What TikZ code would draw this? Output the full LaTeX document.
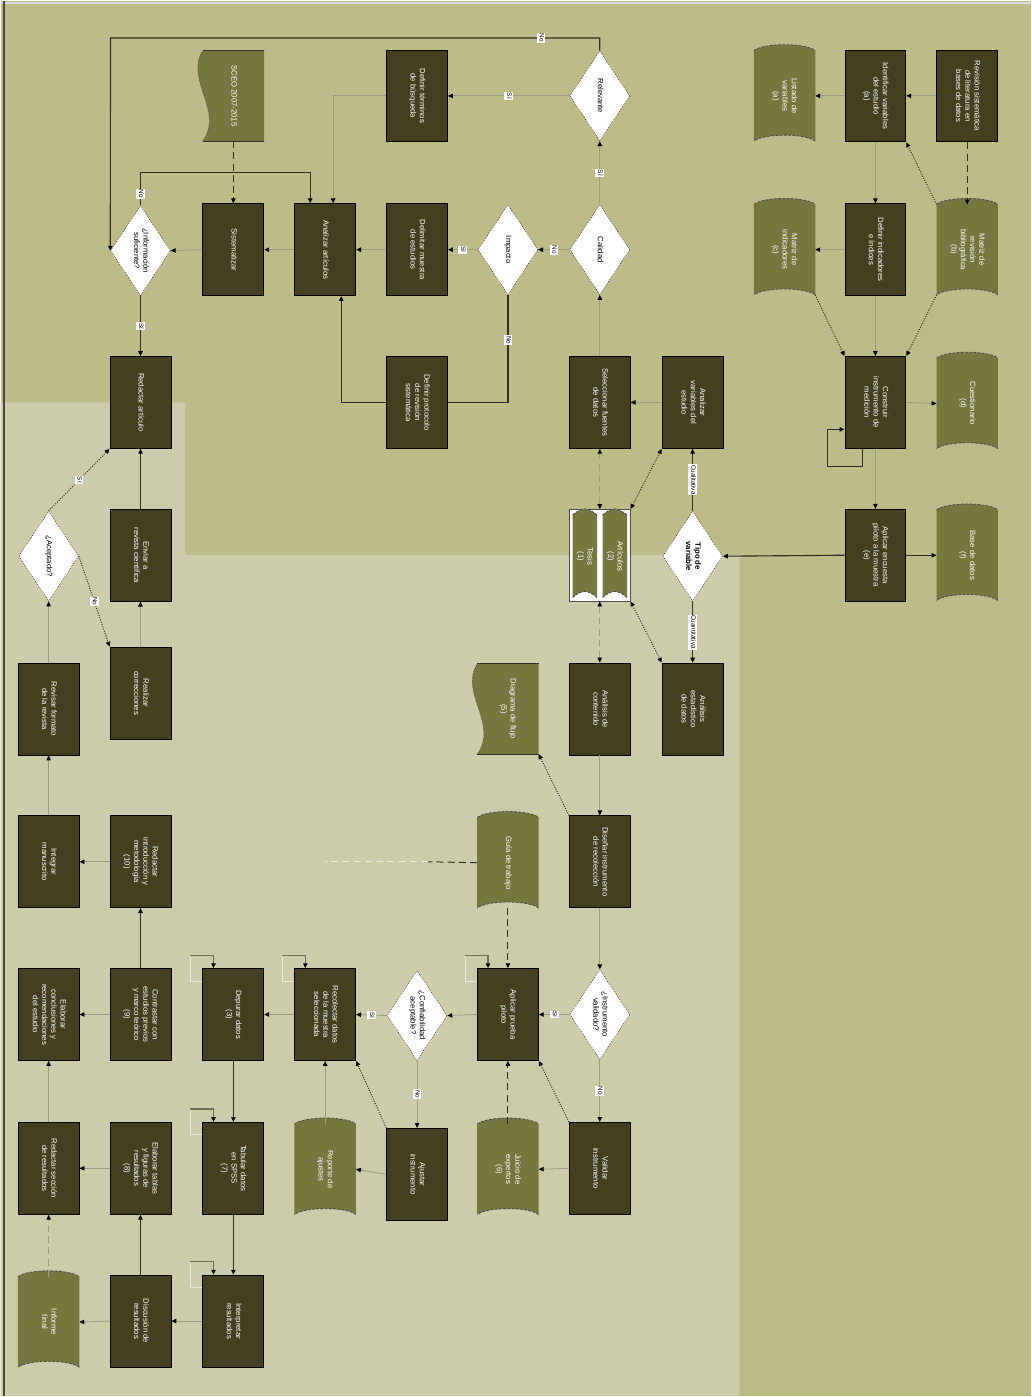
\documentclass[tikz,border=0pt]{standalone}
\usepackage{fontspec}
\setmainfont{Liberation Sans}
\usetikzlibrary{shapes.geometric,arrows.meta,calc}
\definecolor{bgdark}{HTML}{BDBB88}
\definecolor{bglight}{HTML}{CCCCAA}
\definecolor{boxc}{HTML}{433F1F}
\definecolor{docc}{HTML}{76763F}
\definecolor{lnlight}{HTML}{9C9C80}
\definecolor{lndark}{HTML}{2E2E22}
\pgfdeclarelayer{back}
\pgfdeclarelayer{docs}
\pgfsetlayers{back,docs,main}
\newcommand{\rt}[1]{\rotatebox{-90}{\begin{tabular}{@{}c@{}}#1\end{tabular}}}
\tikzset{
  box/.style={draw=black,line width=0.6pt,fill=boxc,text=white,minimum width=1.525cm,minimum height=2.3cm,inner sep=0pt},
  dec/.style={diamond,aspect=0.66,draw=black,densely dotted,fill=white,minimum width=1.5cm,minimum height=2.25cm,inner sep=0pt},
  tapedoc/.style={minimum width=1.525cm,minimum height=2.25cm,inner sep=0pt,text=white},
  flow/.style={->,lnlight,line width=0.6pt},
  dflow/.style={->,lndark,line width=0.8pt},
  dashflow/.style={->,lndark,dash pattern=on 5pt off 3pt,line width=0.7pt},
  dotflow/.style={->,lndark,densely dotted,line width=0.7pt},
  lbl/.style={fill=white,text=black,inner sep=0.6pt,font=\fontsize{4.5}{5}\selectfont},
  edgeline/.style={black!70,dash pattern=on 2pt off 1pt,line width=0.6pt},
}
\begin{document}
\begin{tikzpicture}[x=0.025cm,y=-0.025cm,>={Triangle[length=3.5pt,width=3.2pt,color=black]},every node/.style={font=\fontsize{5.5}{6.6}\selectfont}]
\begin{pgfonlayer}{back}
\fill[bgdark] (0,0) rectangle (1032,1397);
\fill[bglight] (0,402) -- (185,402) -- (185,555) -- (740,555) -- (740,1397) -- (0,1397) -- cycle;
\draw[black!15,line width=1pt] (0,2) -- (1032,2);
\draw[lndark!80!bgdark,line width=1.5pt] (3,0) -- (3,1397);
\end{pgfonlayer}
% literature review
\node[tapedoc] (sceo) at (233,95) {\rt{SCEO 2007-2015}};
\node[box] (terms) at (417,95) {\rt{Definir términos\\de búsqueda}};
\node[dec] (relev) at (600,95) {\rt{Relevante}};
\node[dec] (sat) at (140,250) {\rt{¿Información\\suficiente?}};
\node[box] (syst) at (233,249) {\rt{Sistematizar}};
\node[box] (anal) at (325,249) {\rt{Analizar artículos}};
\node[box] (delim) at (417,249) {\rt{Delimitar muestra\\de estudios}};
\node[dec] (imp) at (508,249) {\rt{Impacto}};
\node[dec] (cal) at (600,249) {\rt{Calidad}};
\node[box] (redac) at (140,402) {\rt{Redactar artículo}};
\node[box] (proto) at (417,402) {\rt{Definir protocolo\\de revisión\\sistemática}};
\node[box] (sel) at (600,402) {\rt{Seleccionar fuentes\\de datos}};
\node[box] (var) at (693,402) {\rt{Analizar\\variables del\\estudio}};
% sources and variables
\node[minimum width=1.525cm,minimum height=2.3cm,inner sep=0pt] (refs) at (600,555) {};
\node[tapedoc,minimum width=0.6cm,minimum height=2.05cm] (tesis) at (585,556) {\rt{Tesis\\(1)}};
\node[tapedoc,minimum width=0.6cm,minimum height=2.05cm] (art) at (615,556) {\rt{Artículos\\(2)}};
\node[dec,font=\fontsize{5.5}{6.6}\selectfont\bfseries] (tipo) at (693,556) {\rt{Tipo de\\variable}};
\node[box] (cual) at (600,709) {\rt{Análisis de\\contenido}};
\node[box] (quan) at (693,709) {\rt{Análisis\\estadístico\\de datos}};
\node[tapedoc] (diag) at (508,709) {\rt{Diagrama de flujo\\(5)}};
\node[box] (inst) at (600,862) {\rt{Diseñar instrumento\\de recolección}};
\node[tapedoc] (guia) at (508,863) {\rt{Guía de trabajo}};
% fieldwork
\node[dec] (test) at (600,1015) {\rt{¿Instrumento\\validado?}};
\node[box] (apply) at (508,1015) {\rt{Aplicar prueba\\piloto}};
\node[dec] (conf) at (417,1016) {\rt{¿Confiabilidad\\aceptable?}};
\node[box] (coll) at (325,1015) {\rt{Recolectar datos\\de la muestra\\seleccionada}};
\node[box] (proc) at (233,1015) {\rt{Depurar datos\\(3)}};
\node[box] (valid) at (600,1169) {\rt{Validar\\instrumento}};
\node[tapedoc] (exp) at (508,1170) {\rt{Juicio de\\expertos\\(6)}};
\node[box] (adj) at (417,1175) {\rt{Ajustar\\instrumento}};
\node[tapedoc] (rep) at (325,1170) {\rt{Reporte de\\ajustes}};
\node[box] (tab) at (233,1169) {\rt{Tabular datos\\en SPSS\\(7)}};
\node[box] (inter) at (233,1322) {\rt{Interpretar\\resultados}};
% writing
\node[box] (disc) at (140,1322) {\rt{Discusión de\\resultados}};
\node[tapedoc] (concl) at (48,1323) {\rt{Informe\\final}};
\node[box] (result) at (140,1169) {\rt{Elaborar tablas\\y figuras de\\resultados\\(8)}};
\node[box] (rsec) at (48,1169) {\rt{Redactar sección\\de resultados}};
\node[box] (contr) at (140,1015) {\rt{Contrastar con\\estudios previos\\y marco teórico\\(9)}};
\node[box] (recom) at (48,1015) {\rt{Elaborar\\conclusiones y\\recomendaciones\\del estudio}};
\node[box] (intro) at (140,862) {\rt{Redactar\\introducción y\\metodología\\(10)}};
\node[box] (manus) at (48,862) {\rt{Integrar\\manuscrito}};
\node[box] (forma) at (48,709) {\rt{Revisar formato\\de la revista}};
\node[dec] (acc) at (48,556) {\rt{¿Aceptado?}};
\node[box] (corr) at (140,693) {\rt{Realizar\\correcciones}};
\node[box] (envio) at (140,555) {\rt{Enviar a\\revista científica}};
% variables
\node[box] (rsl) at (968,95) {\rt{Revisión sistemática\\de literatura en\\bases de datos}};
\node[box] (ident) at (876,95) {\rt{Identificar variables\\del estudio\\(a)}};
\node[tapedoc] (lvar) at (785,95) {\rt{Listado de\\variables\\(a)}};
\node[tapedoc] (mrev) at (968,249) {\rt{Matriz de\\revisión\\bibliográfica\\(b)}};
\node[box] (indic) at (876,249) {\rt{Definir indicadores\\e índices}};
\node[tapedoc] (mind) at (785,249) {\rt{Matriz de\\indicadores\\(c)}};
\node[box] (constr) at (876,402) {\rt{Construir\\instrumento de\\medición}};
\node[tapedoc] (cuest) at (968,403) {\rt{Cuestionario\\(d)}};
\node[box] (pilot) at (876,555) {\rt{Aplicar encuesta\\piloto a la muestra\\(e)}};
\node[tapedoc] (bdat) at (968,555) {\rt{Base de datos\\(f)}};
% document shapes
\begin{pgfonlayer}{docs}
\draw[fill=white,draw=black!70,line width=0.6pt] (refs.north west) rectangle (refs.south east);
\foreach \n in {guia,exp,rep,concl,lvar,mrev,mind,cuest,bdat,tesis,art} {
  \fill[docc] (\n.north west) .. controls ($(\n.north west)+(10,-8)$) and ($(\n.north east)+(-10,-8)$) .. (\n.north east) -- (\n.south east) .. controls ($(\n.south east)+(-10,-8)$) and ($(\n.south west)+(10,-8)$) .. (\n.south west) -- cycle;
  \draw[edgeline] (\n.north west) .. controls ($(\n.north west)+(10,-8)$) and ($(\n.north east)+(-10,-8)$) .. (\n.north east);
  \draw[edgeline] (\n.south east) .. controls ($(\n.south east)+(-10,-8)$) and ($(\n.south west)+(10,-8)$) .. (\n.south west);
}
\foreach \n in {sceo,diag} {
  \fill[docc] (\n.north west) -- (\n.north east) -- (\n.south east) -- (\n.south west) .. controls ($(\n.south west)+(22,-30)$) and ($(\n.north west)+(-18,30)$) .. (\n.north west) -- cycle;
  \draw[lndark,line width=0.8pt] (\n.north west) -- (\n.north east);
  \draw[lndark,line width=0.8pt] (\n.south west) -- (\n.south east);
  \draw[black!70,densely dotted,line width=0.6pt] (\n.south west) .. controls ($(\n.south west)+(22,-30)$) and ($(\n.north west)+(-18,30)$) .. (\n.north west);
}
\end{pgfonlayer}
% review connectors
\coordinate (jt) at (233,172);
\coordinate (ctop) at (110,37);
\draw[dflow] (sat.north) -- node[lbl,pos=.35]{\rt{No}} (sat.north |- jt) -| ($(anal.north)+(-15,0)$);
\draw[dashflow] (sceo.south) -- (syst.north);
\draw[flow] (terms.west) -| ($(anal.north)+(8,0)$);
\draw[dflow] (relev.north) -- (relev.north |- ctop) -- node[lbl,pos=.12]{\rt{No}} (ctop) -- (sat.west);
\draw[flow] (relev.west) -- node[lbl]{\rt{Sí}} (terms.east);
\draw[flow] (cal.north) -- node[lbl]{\rt{Sí}} (relev.south);
\draw[flow] (cal.west) -- node[lbl]{\rt{No}} (imp.east);
\draw[flow] (imp.west) -- node[lbl]{\rt{Sí}} (delim.east);
\draw[dflow,-] (imp.south) |- node[lbl,pos=.21]{\rt{No}} (proto.east);
\draw[dflow] (proto.west) -| ($(anal.south)+(16,0)$);
\draw[flow] (delim.west) -- (anal.east);
\draw[flow] (anal.west) -- (syst.east);
\draw[flow] (syst.west) -- (sat.east);
\draw[dflow] (sat.south) -- node[lbl]{\rt{Sí}} (redac.north);
\draw[flow] (sel.north) -- (cal.south);
\draw[flow] (var.west) -- (sel.east);
% sources connectors
\draw[dashflow,<->,lnlight] (refs.north) -- (sel.south);
\draw[dotflow,<->] (refs.north east) -- (var.south west);
\draw[dflow] (tipo.north) -- node[lbl]{\rt{Cualitativa}} (var.south);
\draw[dflow] (tipo.south) -- node[lbl]{\rt{Cuantitativa}} (quan.north);
\draw[dflow] (pilot.west) -- (tipo.east);
\draw[dashflow,<->,lnlight] (refs.south) -- (cual.north);
\draw[dotflow,<->] (refs.south east) -- (quan.north west);
\draw[flow] (cual.south) -- (inst.north);
\draw[dotflow] (inst.north west) -- (diag.south east);
\draw[flow] (inst.south) -- (test.north);
\coordinate (cg1) at (428,862);
\coordinate (cg) at (325,862);
\draw[dashflow,-] (guia.west) -- (cg1);
\draw[dashflow,-,white!60!bglight] (cg1) -- (cg);
\draw[dashflow] (guia.south) -- (apply.north);
% fieldwork connectors
\draw[flow] (test.west) -- node[lbl]{\rt{Sí}} (apply.east);
\draw[flow] (test.south) -- node[lbl]{\rt{No}} (valid.north);
\draw[flow] (valid.west) -- (exp.east);
\draw[dotflow] (valid.north west) -- (apply.south east);
\draw[dashflow] (exp.north) -- (apply.south);
\draw[flow] (apply.west) -- (conf.east);
\draw[flow] (conf.west) -- node[lbl]{\rt{Sí}} (coll.east);
\draw[flow] (conf.south) -- node[lbl]{\rt{No}} (adj.north);
\draw[flow] (adj.west) -- (rep.east);
\draw[dotflow] (adj.north west) -- (coll.south east);
\draw[flow] (rep.north) -- (coll.south);
\draw[flow] (coll.west) -- (proc.east);
\draw[dflow] (proc.south) -- (tab.north);
\draw[dflow] (tab.south) -- (inter.north);
\foreach \n in {proc,tab,inter,coll,apply} {
  \draw[white!55!bglight,line width=0.8pt] ($(\n.north west)+(0,13)$) -- ++(-12,0) -- ++(0,-26);
  \draw[dflow,lnlight!70!black] ($(\n.north west)+(-12,-13)$) -| ($(\n.north west)+(11,0)$);
}
% writing connectors
\draw[flow] (inter.west) -- (disc.east);
\draw[flow] (disc.west) -- (concl.east);
\draw[dflow] (disc.north) -- (result.south);
\draw[dashflow,lnlight] (concl.north) -- (rsec.south);
\draw[flow] (result.west) -- (rsec.east);
\draw[flow] (rsec.north) -- (recom.south);
\draw[flow] (contr.west) -- (recom.east);
\draw[dflow] (contr.north) -- (intro.south);
\draw[flow] (intro.west) -- (manus.east);
\draw[flow] (manus.north) -- (forma.south);
\draw[flow] (forma.north) -- (acc.south);
\draw[dotflow] (acc.north) -- node[lbl]{\rt{Sí}} (redac.south west);
\draw[dotflow] (acc.east) -- node[lbl]{\rt{No}} (corr.north west);
\draw[flow] (corr.north) -- (envio.south);
\draw[dflow] (envio.north) -- (redac.south);
% variables connectors
\draw[flow] (rsl.west) -- (ident.east);
\draw[flow] (ident.west) -- (lvar.east);
\draw[dashflow] (rsl.south) -- (mrev.north);
\draw[dotflow] (mrev.north west) -- (ident.south east);
\draw[flow] (ident.south) -- (indic.north);
\draw[flow] (indic.west) -- (mind.east);
\draw[flow] (indic.south) -- (constr.north);
\draw[dotflow] (mind.south east) -- (constr.north west);
\draw[dotflow] (mrev.south west) -- (constr.north east);
\draw[flow] (constr.east) -- (cuest.west);
\draw[flow] (constr.south) -- (pilot.north);
\draw[dflow] ($(constr.south)+(-13,0)$) |- ($(constr.south west)+(-17,18)$) |- ($(constr.west)+(0,27)$);
\draw[dflow] (pilot.east) -- (bdat.west);
\end{tikzpicture}
\end{document}
